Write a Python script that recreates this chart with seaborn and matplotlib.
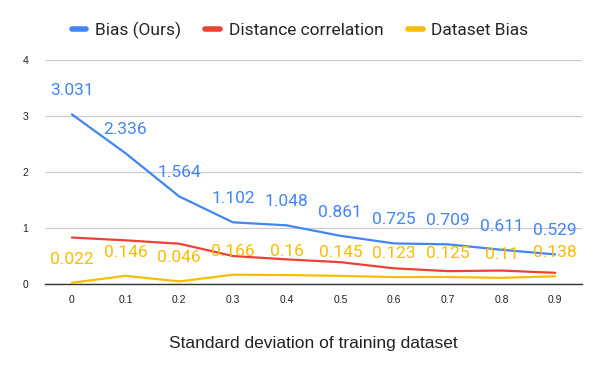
import matplotlib
matplotlib.use("Agg")
import matplotlib.pyplot as plt
import pandas as pd
import seaborn as sns

# Datos
std_labels = ["0", "0.1", "0.2", "0.3", "0.4", "0.5", "0.6", "0.7", "0.8", "0.9"]
bias_ours = [3.031, 2.336, 1.564, 1.102, 1.048, 0.861, 0.725, 0.709, 0.611, 0.529]
distance_corr = [0.83, 0.78, 0.72, 0.50, 0.44, 0.39, 0.28, 0.23, 0.24, 0.20]
dataset_bias = [0.022, 0.146, 0.046, 0.166, 0.16, 0.145, 0.123, 0.125, 0.11, 0.138]

series_names = ["Bias (Ours)", "Distance correlation", "Dataset Bias"]
colors = ["#4285F4", "#EA4335", "#FBBC04"]

df = pd.DataFrame({
    "x": list(range(len(std_labels))) * 3,
    "value": bias_ours + distance_corr + dataset_bias,
    "serie": [n for n in series_names for _ in std_labels],
})

sns.set_style("white")
plt.rcParams["font.family"] = ["Roboto", "DejaVu Sans"]

fig = plt.figure(figsize=(6, 3.71), dpi=100)
ax = fig.add_axes([0.075, 0.2345, 0.895, 0.6035])

sns.lineplot(data=df, x="x", y="value", hue="serie", palette=colors,
             linewidth=1.6, ax=ax, legend=False, zorder=3)

# Etiquetas de datos (sólo azul y amarillo)
for vals, col in [(bias_ours, colors[0]), (dataset_bias, colors[2])]:
    for i, v in enumerate(vals):
        ax.annotate(f"{v:g}", (i, v), xytext=(0, 17), textcoords="offset points",
                    ha="center", va="center", fontsize=12.5, color=col, zorder=4)

ax.set_xlim(-0.5, len(std_labels) - 0.5)
ax.set_ylim(0, 4)
ax.set_xticks(range(len(std_labels)))
ax.set_xticklabels(std_labels)
ax.set_yticks([0, 1, 2, 3, 4])
ax.tick_params(axis="both", length=0, labelsize=7.5, colors="#222222")
ax.tick_params(axis="x", pad=8)
ax.tick_params(axis="y", pad=12)
for lab in ax.get_xticklabels() + ax.get_yticklabels():
    lab.set_family(["Liberation Sans", "DejaVu Sans"])
ax.grid(axis="y", color="#cccccc", linewidth=0.9)
ax.grid(axis="x", visible=False)
for s in ["top", "right", "left"]:
    ax.spines[s].set_visible(False)
ax.spines["bottom"].set_color("#333333")
ax.spines["bottom"].set_linewidth(1)

ax.set_xlabel("Standard deviation of training dataset", fontsize=12.5, labelpad=22,
              color="#222222", family=["Liberation Sans", "DejaVu Sans"])
ax.set_ylabel("")

handles = [plt.Line2D([], [], color=c, linewidth=4) for c in colors]
fig.legend(handles, series_names, loc="center", bbox_to_anchor=(0.5, 0.918), ncol=3,
           frameon=False, fontsize=12.5, handlelength=0.85, handletextpad=0.5,
           columnspacing=1.4)

fig.savefig("out.png", dpi=100)
